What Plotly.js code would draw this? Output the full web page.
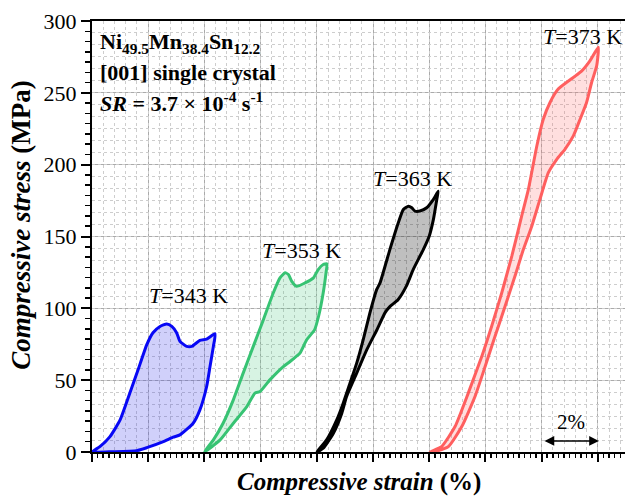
<!DOCTYPE html>
<html>
<head>
<meta charset="utf-8">
<script src="https://cdn.plot.ly/plotly-3.0.1.min.js"></script>
<style>
html,body{margin:0;padding:0;overflow:hidden;background:#fff;}
#chart{width:640px;height:498px;}
</style>
</head>
<body>
<div id="chart"></div>
<script>
// ---- Data (strain in %, stress in MPa) ----
const strain343Load = [0, 0.28, 0.64, 1.00, 1.35, 1.64, 1.95, 2.17, 2.42, 2.66, 2.84, 3.01, 3.13, 3.37, 3.55, 3.84, 4.08, 4.38];
const stress343Load = [0, 3.7, 10.7, 22.3, 41.2, 57.2, 74.7, 83.0, 87.4, 89.1, 87.4, 83.0, 77.0, 73.5, 73.5, 77.7, 78.6, 82.3];
const strain343Unload = [4.32, 4.20, 4.08, 3.84, 3.60, 3.13, 2.89, 2.54, 1.95, 1.59, 0.75, 0];
const stress343Unload = [73.5, 59.5, 45.6, 29.3, 20.0, 11.9, 10.3, 7.2, 3.0, 0.9, 0.2, 0];

const strain353Load = [4.00, 4.32, 4.67, 5.03, 5.38, 5.74, 6.10, 6.45, 6.69, 6.87, 6.99, 7.11, 7.28, 7.58, 7.88, 8.05, 8.23, 8.36];
const stress353Load = [0, 8.4, 20.2, 36.3, 54.9, 73.5, 92.1, 110.7, 121.2, 124.7, 123.5, 118.8, 115.3, 117.7, 121.2, 127.0, 130.5, 131.0];
const strain353Unload = [8.33, 8.23, 8.07, 7.92, 7.64, 7.40, 7.05, 6.81, 6.33, 5.98, 5.80, 5.51, 5.03, 4.56, 4.00];
const stress353Unload = [125.0, 111.0, 95.0, 85.0, 78.1, 68.8, 63.0, 59.5, 50.2, 42.1, 41.0, 31.6, 20.0, 8.4, 0];

const strain363Load = [8.00, 8.35, 8.71, 8.94, 9.18, 9.42, 9.65, 9.89, 10.13, 10.25, 10.60, 10.90, 11.08, 11.26, 11.38, 11.49, 11.67, 11.91, 12.15, 12.32];
const stress363Load = [0, 8.4, 22.3, 34.0, 47.9, 61.9, 78.1, 96.8, 113.0, 117.7, 140.9, 159.6, 168.8, 171.1, 170.0, 167.7, 167.7, 170.0, 175.8, 181.6];
const strain363Unload = [12.27, 12.15, 12.00, 11.79, 11.43, 11.20, 10.89, 10.60, 10.43, 10.14, 9.78, 9.42, 9.06, 8.89, 8.59, 8.23, 8.00];
const stress363Unload = [175.8, 161.9, 150.2, 140.9, 127.0, 116.0, 106.0, 101.2, 97.0, 85.1, 71.2, 54.9, 38.6, 27.0, 13.0, 2.6, 0];

const strain373Load = [12.03, 12.44, 12.92, 13.39, 13.87, 14.22, 14.58, 14.94, 15.29, 15.53, 15.83, 16.06, 16.30, 16.59, 17.13, 17.43, 17.72, 18.02];
const stress373Load = [0, 3.7, 17.7, 41.0, 66.5, 87.4, 110.7, 136.3, 164.2, 182.8, 213.0, 231.6, 243.3, 252.6, 260.7, 265.3, 272.3, 281.7];
const strain373Unload = [17.96, 17.78, 17.60, 17.37, 17.13, 16.83, 16.54, 16.24, 15.94, 15.65, 15.35, 15.05, 14.70, 14.34, 13.99, 13.63, 13.16, 12.68, 12.21, 12.03];
const stress373Unload = [268.8, 257.2, 243.3, 231.6, 220.0, 210.7, 203.7, 194.4, 175.8, 157.2, 140.9, 122.3, 101.4, 80.4, 59.5, 38.6, 17.7, 3.7, 0.3, 0];

const tempLabels = ['T=343 K', 'T=353 K', 'T=363 K', 'T=373 K'];
const labelStrain = [3.45, 7.45, 11.4, 17.46];
const labelStress = [108.8, 140.4, 190.3, 289.3];

const yTickVals = [0, 50, 100, 150, 200, 250, 300];
const yTickText = ['0', '50', '100', '150', '200', '250', '300'];

// ---- Build traces ----
const loops = [
  {x: strain343Load.concat(strain343Unload), y: stress343Load.concat(stress343Unload), line: 'rgb(8,8,245)', fill: 'rgba(40,40,230,0.22)'},
  {x: strain353Load.concat(strain353Unload), y: stress353Load.concat(stress353Unload), line: 'rgb(55,195,115)', fill: 'rgba(55,195,115,0.2)'},
  {x: strain363Load.concat(strain363Unload), y: stress363Load.concat(stress363Unload), line: 'rgb(0,0,0)', fill: 'rgba(0,0,0,0.25)'},
  {x: strain373Load.concat(strain373Unload), y: stress373Load.concat(stress373Unload), line: 'rgb(255,95,95)', fill: 'rgba(255,95,95,0.2)'}
];

const traces = loops.map(l => ({
  type: 'scatter', mode: 'lines', x: l.x, y: l.y,
  fill: 'toself', fillcolor: l.fill,
  line: {color: l.line, width: 3, shape: 'spline', smoothing: 0.5},
  hoverinfo: 'skip', showlegend: false
}));

const serif = 'Liberation Serif, Times New Roman, serif';

const annotations = tempLabels.map((t, i) => ({
  x: labelStrain[i], y: labelStress[i], xref: 'x', yref: 'y',
  text: '<i>T</i>=' + t.slice(2), showarrow: false,
  font: {family: serif, size: 22, color: '#000'},
  xanchor: 'center', yanchor: 'middle'
}));

annotations.push(
  {x: 0.2, y: 285.0, xref: 'x', yref: 'y', xanchor: 'left', yanchor: 'middle', showarrow: false,
   text: '<b>Ni<sub>49.5</sub>Mn<sub>38.4</sub>Sn<sub>12.2</sub></b>', font: {family: serif, size: 22, color: '#000'}},
  {x: 0.2, y: 264.4, xref: 'x', yref: 'y', xanchor: 'left', yanchor: 'middle', showarrow: false,
   text: '<b>[001] single crystal</b>', font: {family: serif, size: 22, color: '#000'}},
  {x: 0.2, y: 243.5, xref: 'x', yref: 'y', xanchor: 'left', yanchor: 'middle', showarrow: false,
   text: '<b><i>SR</i> = 3.7 × 10<sup>-4</sup> s<sup>-1</sup></b>', font: {family: serif, size: 22, color: '#000'}},
  {x: 17.04, y: 20.9, xref: 'x', yref: 'y', xanchor: 'center', yanchor: 'middle', showarrow: false,
   text: '2%', font: {family: serif, size: 21, color: '#000'}},
  {x: 18.04, y: 7.7, ax: 16.05, ay: 7.7, xref: 'x', yref: 'y', axref: 'x', ayref: 'y',
   text: '', showarrow: true, arrowhead: 2, arrowside: 'end+start', arrowsize: 1.3, arrowwidth: 1.5, arrowcolor: '#000'},
  // axis titles
  {x: 0.487, y: -0.07, xref: 'paper', yref: 'paper', xanchor: 'center', yanchor: 'middle', showarrow: false,
   text: '<b><i>Compressive strain</i> (%)</b>', font: {family: serif, size: 25, color: '#000'}},
  {x: -0.1296, y: 0.527, xref: 'paper', yref: 'paper', xanchor: 'center', yanchor: 'middle', showarrow: false, textangle: -90,
   text: '<b><i>Compressive stress</i> (MPa)</b>', font: {family: serif, size: 27, color: '#000'}}
);

const layout = {
  width: 640, height: 498,
  margin: {l: 92, r: 0, t: 21, b: 46},
  paper_bgcolor: '#fff', plot_bgcolor: '#fff',
  font: {family: serif, color: '#000'},
  showlegend: false,
  xaxis: {
    range: [0, 548 / 28.1], showticklabels: false,
    tick0: 0, dtick: 2, ticks: 'outside', ticklen: 8, tickwidth: 2, tickcolor: '#000',
    showline: true, linecolor: '#000', linewidth: 2, mirror: true,
    showgrid: true, gridcolor: 'rgb(170,170,170)', gridwidth: 1, zeroline: false,
    minor: {dtick: 0.2, ticks: 'outside', ticklen: 4, tickwidth: 1.5, tickcolor: '#000', showgrid: false}
  },
  yaxis: {
    range: [0, 300], tickvals: yTickVals, ticktext: yTickText,
    ticks: 'outside', ticklen: 9, tickwidth: 2, tickcolor: '#000',
    tickfont: {family: serif, size: 22, color: '#000'},
    showline: true, linecolor: '#000', linewidth: 2, mirror: true,
    showgrid: true, gridcolor: 'rgb(170,170,170)', gridwidth: 1, zeroline: false,
    minor: {dtick: 50 / 7, ticks: 'outside', ticklen: 5, tickwidth: 1.5, tickcolor: '#000', showgrid: false}
  },
  xaxis2: {
    overlaying: 'x', matches: 'x', showticklabels: false, ticks: '', showline: false, zeroline: false,
    tick0: 0, dtick: 0.4, showgrid: true, gridcolor: 'rgb(205,205,205)', griddash: 'dot', gridwidth: 1
  },
  yaxis2: {
    overlaying: 'y', matches: 'y', showticklabels: false, ticks: '', showline: false, zeroline: false,
    tick0: 0, dtick: 50 / 6, showgrid: true, gridcolor: 'rgb(205,205,205)', griddash: 'dot', gridwidth: 1
  },
  annotations: annotations
};

// invisible trace on the overlay axes so their grid is drawn
traces.unshift({type: 'scatter', mode: 'none', x: [0], y: [0], xaxis: 'x2', yaxis: 'y2', hoverinfo: 'skip', showlegend: false});

Plotly.newPlot('chart', traces, layout, {displayModeBar: false, staticPlot: true});
</script>
</body>
</html>
